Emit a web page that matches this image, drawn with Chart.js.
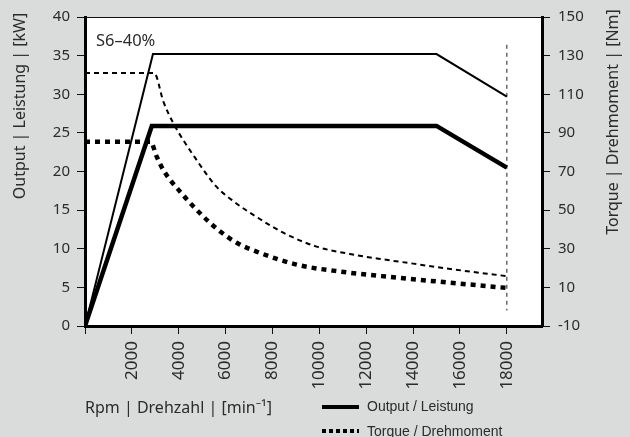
<!DOCTYPE html>
<html>
<head>
<meta charset="utf-8">
<script src="https://cdn.jsdelivr.net/npm/chart.js@4/dist/chart.umd.min.js"></script>
<style>
  body { margin: 0; background: #d9dcdb; }
</style>
</head>
<body>
<canvas id="myChart" width="630" height="437"></canvas>
<script>
// output curves [kW], left axis
const rpmS6Power = [0, 2900, 15000, 18000];
const powerS6 = [0, 35.2, 35.2, 29.7];
const rpmContPower = [0, 2850, 15000, 18000];
const powerCont = [0, 25.9, 25.9, 20.5];

// torque curves [Nm], right axis
const rpmS6Torque = [0, 2950, 3350, 3770, 4760, 5620, 6400, 7250, 8460, 9880, 11300, 12720, 14000, 15420, 18000];
const torqueS6 = [121, 121, 106, 95, 76, 62, 54, 47, 38.3, 31.1, 27.3, 24.5, 22.3, 19.8, 15.8];
const rpmContTorque = [0, 2800, 3050, 3340, 4120, 4980, 5690, 6470, 7320, 9100, 10950, 13000, 15420, 18000];
const torqueCont = [85.4, 85.4, 78, 70.8, 58.7, 47.5, 39.7, 33.1, 28.5, 21.6, 18.1, 15.4, 12.6, 9.7];

// speed limit marker
const limitRpm = [18000, 18000];
const limitKw = [36.4, 2];

const xTicks = [0, 2000, 4000, 6000, 8000, 10000, 12000, 14000, 16000, 18000];

const textColor = '#2b2b2b';
const font = 'Noto Sans';

function pts(xs, ys) {
	return xs.map((x, i) => ({ x: x, y: ys[i] }));
}

const chartBg = {
	id: 'chartBg',
	beforeDraw(chart) {
		const { ctx, chartArea: a } = chart;
		ctx.save();
		ctx.fillStyle = '#d9dcdb';
		ctx.fillRect(0, 0, chart.width, chart.height);
		ctx.fillStyle = '#fff';
		ctx.fillRect(a.left, a.top, a.right - a.left, a.bottom - a.top);
		ctx.restore();
	},
	afterDraw(chart) {
		const { ctx, chartArea: a } = chart;
		ctx.save();
		// top frame line
		ctx.strokeStyle = '#111';
		ctx.lineWidth = 1;
		ctx.beginPath();
		ctx.moveTo(a.left, a.top + 0.5);
		ctx.lineTo(a.right, a.top + 0.5);
		ctx.stroke();

		ctx.fillStyle = textColor;
		ctx.font = '16.5px "' + font + '"';
		ctx.textBaseline = 'middle';
		ctx.textAlign = 'left';
		ctx.fillText('S6–40%', 96, 41);
		ctx.font = '16px "' + font + '"';
		ctx.fillText('Rpm | Drehzahl | [min⁻¹]', 85, 408);

		ctx.textAlign = 'center';
		ctx.save();
		ctx.translate(20, 106);
		ctx.rotate(-Math.PI / 2);
		ctx.fillText('Output | Leistung | [kW]', 0, 0);
		ctx.restore();
		ctx.save();
		ctx.translate(613, 122);
		ctx.rotate(-Math.PI / 2);
		ctx.fillText('Torque | Drehmoment | [Nm]', 0, 0);
		ctx.restore();

		// legend
		ctx.strokeStyle = '#000';
		ctx.lineWidth = 4;
		ctx.beginPath();
		ctx.moveTo(322, 407);
		ctx.lineTo(359, 407);
		ctx.stroke();
		ctx.setLineDash([4, 3]);
		ctx.beginPath();
		ctx.moveTo(322, 431);
		ctx.lineTo(359, 431);
		ctx.stroke();
		ctx.setLineDash([]);
		ctx.font = '14px "Liberation Sans"';
		ctx.textAlign = 'left';
		ctx.fillText('Output / Leistung', 367, 407);
		ctx.fillText('Torque / Drehmoment', 367, 432);
		ctx.restore();
	}
};

const ctx = document.getElementById('myChart').getContext('2d');
const chart = new Chart(ctx, {
	type: 'line',
	data: {
		datasets: [{
			label: 'S6 output',
			data: pts(rpmS6Power, powerS6),
			borderColor: '#000',
			borderWidth: 2,
			yAxisID: 'y',
		}, {
			label: 'Output',
			data: pts(rpmContPower, powerCont),
			borderColor: '#000',
			borderWidth: 4.5,
			yAxisID: 'y',
		}, {
			label: 'S6 torque',
			data: pts(rpmS6Torque, torqueS6),
			borderColor: '#000',
			borderWidth: 2,
			borderDash: [5, 4],
			cubicInterpolationMode: 'monotone',
			yAxisID: 'y2',
		}, {
			label: 'Torque',
			data: pts(rpmContTorque, torqueCont),
			borderColor: '#000',
			borderWidth: 4.5,
			borderDash: [5, 5],
			cubicInterpolationMode: 'monotone',
			yAxisID: 'y2',
		}, {
			label: 'limit',
			data: pts(limitRpm, limitKw),
			borderColor: '#222',
			borderWidth: 1,
			borderDash: [4, 4],
			yAxisID: 'y',
		}]
	},
	options: {
		responsive: false,
		animation: false,
		layout: { padding: { top: 17 } },
		elements: { point: { radius: 0 }, line: { tension: 0, borderCapStyle: 'butt' } },
		plugins: { legend: { display: false }, tooltip: { enabled: false } },
		scales: {
			x: {
				type: 'linear',
				min: 0,
				max: 19500,
				afterBuildTicks: (scale) => { scale.ticks = xTicks.map(v => ({ value: v })); },
				afterFit: (scale) => { scale.height = 111; },
				ticks: {
					minRotation: 90,
					maxRotation: 90,
					padding: 7,
					color: textColor,
					font: { family: font, size: 17 },
					callback: (v) => v === 0 ? '' : String(v),
				},
				grid: { drawOnChartArea: false, tickLength: 8, tickColor: '#111', tickWidth: 1 },
				border: { color: '#000', width: 3 },
			},
			y: {
				position: 'left',
				min: 0,
				max: 40,
				afterFit: (scale) => { scale.width = 85; },
				ticks: { stepSize: 5, padding: 7, color: textColor, font: { family: font, size: 15 } },
				grid: { drawOnChartArea: false, tickLength: 8, tickColor: '#111', tickWidth: 1 },
				border: { color: '#000', width: 3 },
			},
			y2: {
				position: 'right',
				min: -10,
				max: 150,
				afterFit: (scale) => { scale.width = 88; },
				ticks: { stepSize: 20, padding: 8, color: textColor, font: { family: font, size: 15 } },
				grid: { drawOnChartArea: false, tickLength: 8, tickColor: '#111', tickWidth: 1 },
				border: { color: '#000', width: 3 },
			}
		}
	},
	plugins: [chartBg]
});
</script>
</body>
</html>
